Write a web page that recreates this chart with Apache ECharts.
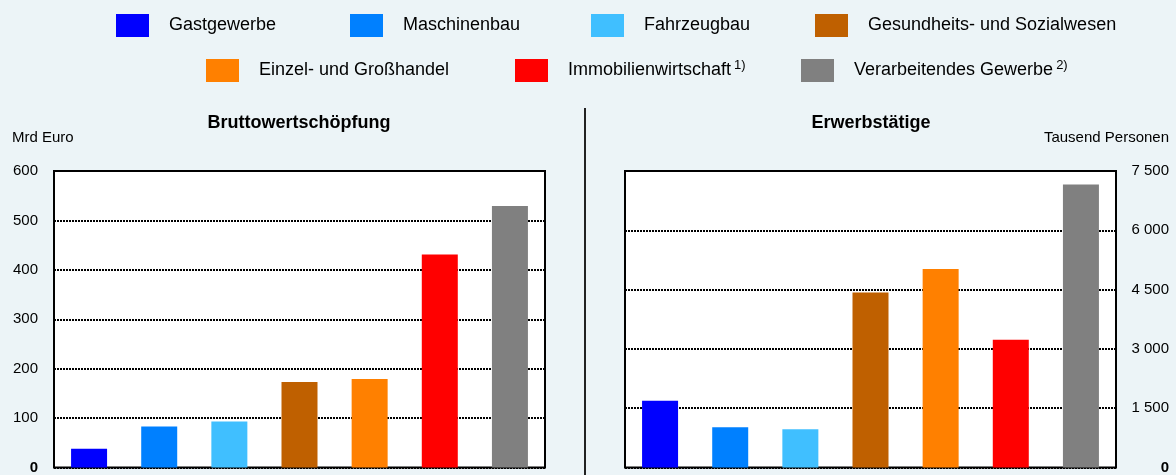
<!DOCTYPE html>
<html>
<head>
<meta charset="utf-8">
<script src="https://cdn.jsdelivr.net/npm/echarts@6/dist/echarts.min.js"></script>
<style>
html,body{margin:0;padding:0;background:#ECF4F7;}
#c{width:1176px;height:475px;}
</style>
</head>
<body>
<div id="c"></div>
<script>
const categories = ['Gastgewerbe','Maschinenbau','Fahrzeugbau','Gesundheits- und Sozialwesen','Einzel- und Großhandel','Immobilienwirtschaft','Verarbeitendes Gewerbe'];
const footnotes = ['','','','','','1)','2)'];
const colors = ['#0000FF','#0080FF','#40BFFF','#BF6000','#FF8000','#FF0000','#808080'];
const bwsValues = [38, 83, 93, 173, 179, 431, 529];
const erwerbValues = [1690, 1020, 970, 4425, 5020, 3230, 7160];
const bwsTicks = {min:0, max:600, interval:100};
const erwerbTicks = {min:0, max:7500, interval:1500};

const FONT = 'Liberation Sans, Arial, sans-serif';
const chart = echarts.init(document.getElementById('c'));

const legendPos = [
  {left:116, top:14},{left:350, top:14},{left:591, top:14},{left:815, top:14},
  {left:206, top:59},{left:515, top:59},{left:801, top:59}
];

const legends = categories.map((c,i)=>({
  data:[c], left:legendPos[i].left, top:legendPos[i].top, padding:0,
  icon:'rect', itemWidth:33, itemHeight:23, selectedMode:false,
  formatter: n => footnotes[i] ? n + '{sup|' + footnotes[i] + '}' : n,
  textStyle:{fontFamily:FONT, fontSize:18, color:'#000', padding:[0,0,0,15],
    rich:{sup:{fontFamily:FONT, fontSize:13, color:'#000', verticalAlign:'top', padding:[0,0,10,3]}}}
}));

function fmtThousands(v){ return String(v).replace(/\B(?=(\d{3})+(?!\d))/g,' '); }

const splitLine = {show:true, lineStyle:{color:'#000', width:2, type:[2,1]}};

const series = [];
categories.forEach((c,i)=>{
  series.push({name:c, type:'bar', xAxisIndex:0, yAxisIndex:0, stack:'bws', barWidth:36,
    itemStyle:{color:colors[i]}, data:categories.map((_,j)=> j===i ? bwsValues[i] : '-')});
});
categories.forEach((c,i)=>{
  series.push({name:c, type:'bar', xAxisIndex:1, yAxisIndex:1, stack:'erw', barWidth:36,
    itemStyle:{color:colors[i]}, data:categories.map((_,j)=> j===i ? erwerbValues[i] : '-')});
});

chart.setOption({
  backgroundColor:'#ECF4F7',
  animation:false,
  legend: legends,
  grid:[
    {left:54, width:491, top:171, bottom:2, show:true, backgroundColor:'#fff', borderColor:'#000', borderWidth:2, z:0},
    {left:625, width:491, top:171, bottom:2, show:true, backgroundColor:'#fff', borderColor:'#000', borderWidth:2, z:0}
  ],
  xAxis:[
    {type:'category', gridIndex:0, data:categories, axisLine:{show:false}, axisTick:{show:false}, axisLabel:{show:false}},
    {type:'category', gridIndex:1, data:categories, axisLine:{show:false}, axisTick:{show:false}, axisLabel:{show:false}}
  ],
  yAxis:[
    {type:'value', gridIndex:0, min:bwsTicks.min, max:bwsTicks.max, interval:bwsTicks.interval,
      axisLine:{show:false}, axisTick:{show:false}, splitLine:splitLine,
      axisLabel:{margin:16, fontFamily:FONT, fontSize:15, color:'#000',
        formatter: v => v===0 ? '{b|0}' : String(v), rich:{b:{fontFamily:FONT, fontSize:15, fontWeight:'bold', color:'#000'}}}},
    {type:'value', gridIndex:1, position:'right', min:erwerbTicks.min, max:erwerbTicks.max, interval:erwerbTicks.interval,
      axisLine:{show:false}, axisTick:{show:false}, splitLine:splitLine,
      axisLabel:{margin:53, align:'right', fontFamily:FONT, fontSize:15, color:'#000',
        formatter: v => v===0 ? '{b|0}' : fmtThousands(v), rich:{b:{fontFamily:FONT, fontSize:15, fontWeight:'bold', color:'#000'}}}}
  ],
  graphic:[
    {type:'line', shape:{x1:585, y1:108, x2:585, y2:475}, style:{stroke:'#222', lineWidth:2}},
    {type:'text', x:299, y:123, style:{text:'Bruttowertschöpfung', fontFamily:FONT, fontSize:18, fontWeight:'bold', fill:'#000', align:'center', verticalAlign:'middle'}},
    {type:'text', x:871, y:123, style:{text:'Erwerbstätige', fontFamily:FONT, fontSize:18, fontWeight:'bold', fill:'#000', align:'center', verticalAlign:'middle'}},
    {type:'text', x:12, y:138, style:{text:'Mrd Euro', fontFamily:FONT, fontSize:15, fill:'#000', align:'left', verticalAlign:'middle'}},
    {type:'text', x:1169, y:138, style:{text:'Tausend Personen', fontFamily:FONT, fontSize:15, fill:'#000', align:'right', verticalAlign:'middle'}}
  ],
  series: series
});
</script>
</body>
</html>
